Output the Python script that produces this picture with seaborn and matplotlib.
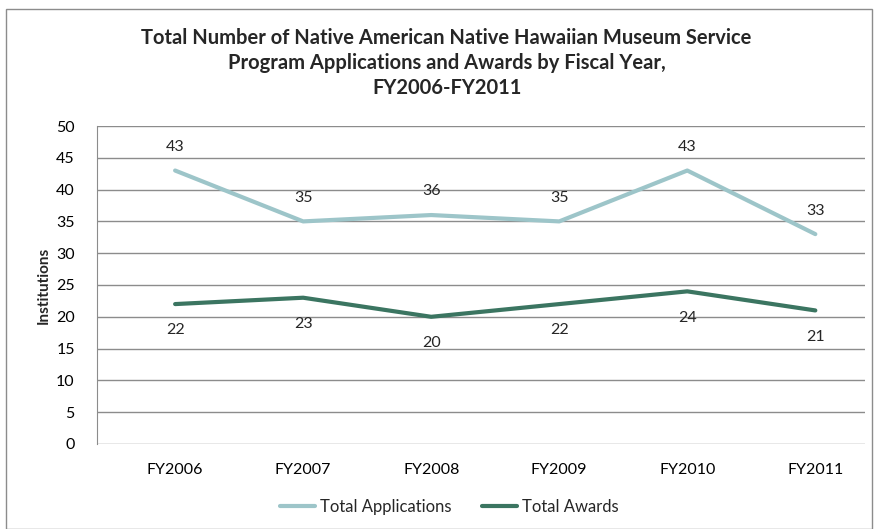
import pandas as pd
import matplotlib.pyplot as plt
import seaborn as sns
from matplotlib.patches import Rectangle

# data
years = ['FY2006', 'FY2007', 'FY2008', 'FY2009', 'FY2010', 'FY2011']
applications = [43, 35, 36, 35, 43, 33]
awards = [22, 23, 20, 22, 24, 21]

df = pd.DataFrame({'year': years * 2,
                   'value': applications + awards,
                   'series': ['Total Applications'] * 6 + ['Total Awards'] * 6})

sns.set_style('white')
plt.rcParams['font.family'] = ['Lato', 'DejaVu Sans']

colors = {'Total Applications': '#9DC5C9', 'Total Awards': '#3B7561'}

fig = plt.figure(figsize=(8.74, 5.29), dpi=100)
ax = fig.add_axes([0.111, 0.1607, 0.879, 0.6011])

sns.lineplot(data=df, x='year', y='value', hue='series', palette=colors,
             linewidth=3, sort=False, ax=ax, legend=False)

ax.set_xlim(-0.61, 5.39)
ax.set_ylim(0, 50)
ax.set_yticks(range(0, 51, 5))
ax.yaxis.grid(True, color='#8C8C8C', linewidth=1)
ax.set_axisbelow(True)
for s in ['top', 'right', 'bottom']:
    ax.spines[s].set_visible(False)
ax.spines['left'].set_color('#8C8C8C')
ax.tick_params(axis='both', length=0, labelsize=11.5, colors='black')
ax.tick_params(axis='x', pad=14)
ax.tick_params(axis='y', pad=16)
ax.set_xlabel('')
ax.set_ylabel('Institutions', fontsize=11, fontweight='bold', labelpad=4)

# data labels
for i, v in enumerate(applications):
    ax.annotate(str(v), (i, v), xytext=(0, 17), textcoords='offset points',
                ha='center', va='center', fontsize=11.5)
for i, v in enumerate(awards):
    ax.annotate(str(v), (i, v), xytext=(0, -19), textcoords='offset points',
                ha='center', va='center', fontsize=11.5)

fig.text(0.511, 0.881,
         'Total Number of Native American Native Hawaiian Museum Service\n'
         'Program Applications and Awards by Fiscal Year,\nFY2006-FY2011',
         ha='center', va='center', fontsize=14.5, fontweight='bold',
         linespacing=1.3)

# legend
handles = [plt.Line2D([], [], color=colors[k], linewidth=3) for k in colors]
fig.legend(handles, list(colors.keys()), loc='center', bbox_to_anchor=(0.514, 0.041),
           ncol=2, frameon=False, fontsize=12, handlelength=2.1,
           handletextpad=0.3, columnspacing=1.8)

# outer chart border
fig.patches.append(Rectangle((6 / 874, 0), 866 / 874, 520 / 529,
                             transform=fig.transFigure, fill=False,
                             edgecolor='#8C8C8C', linewidth=1))

fig.savefig('out.png', dpi=100)
